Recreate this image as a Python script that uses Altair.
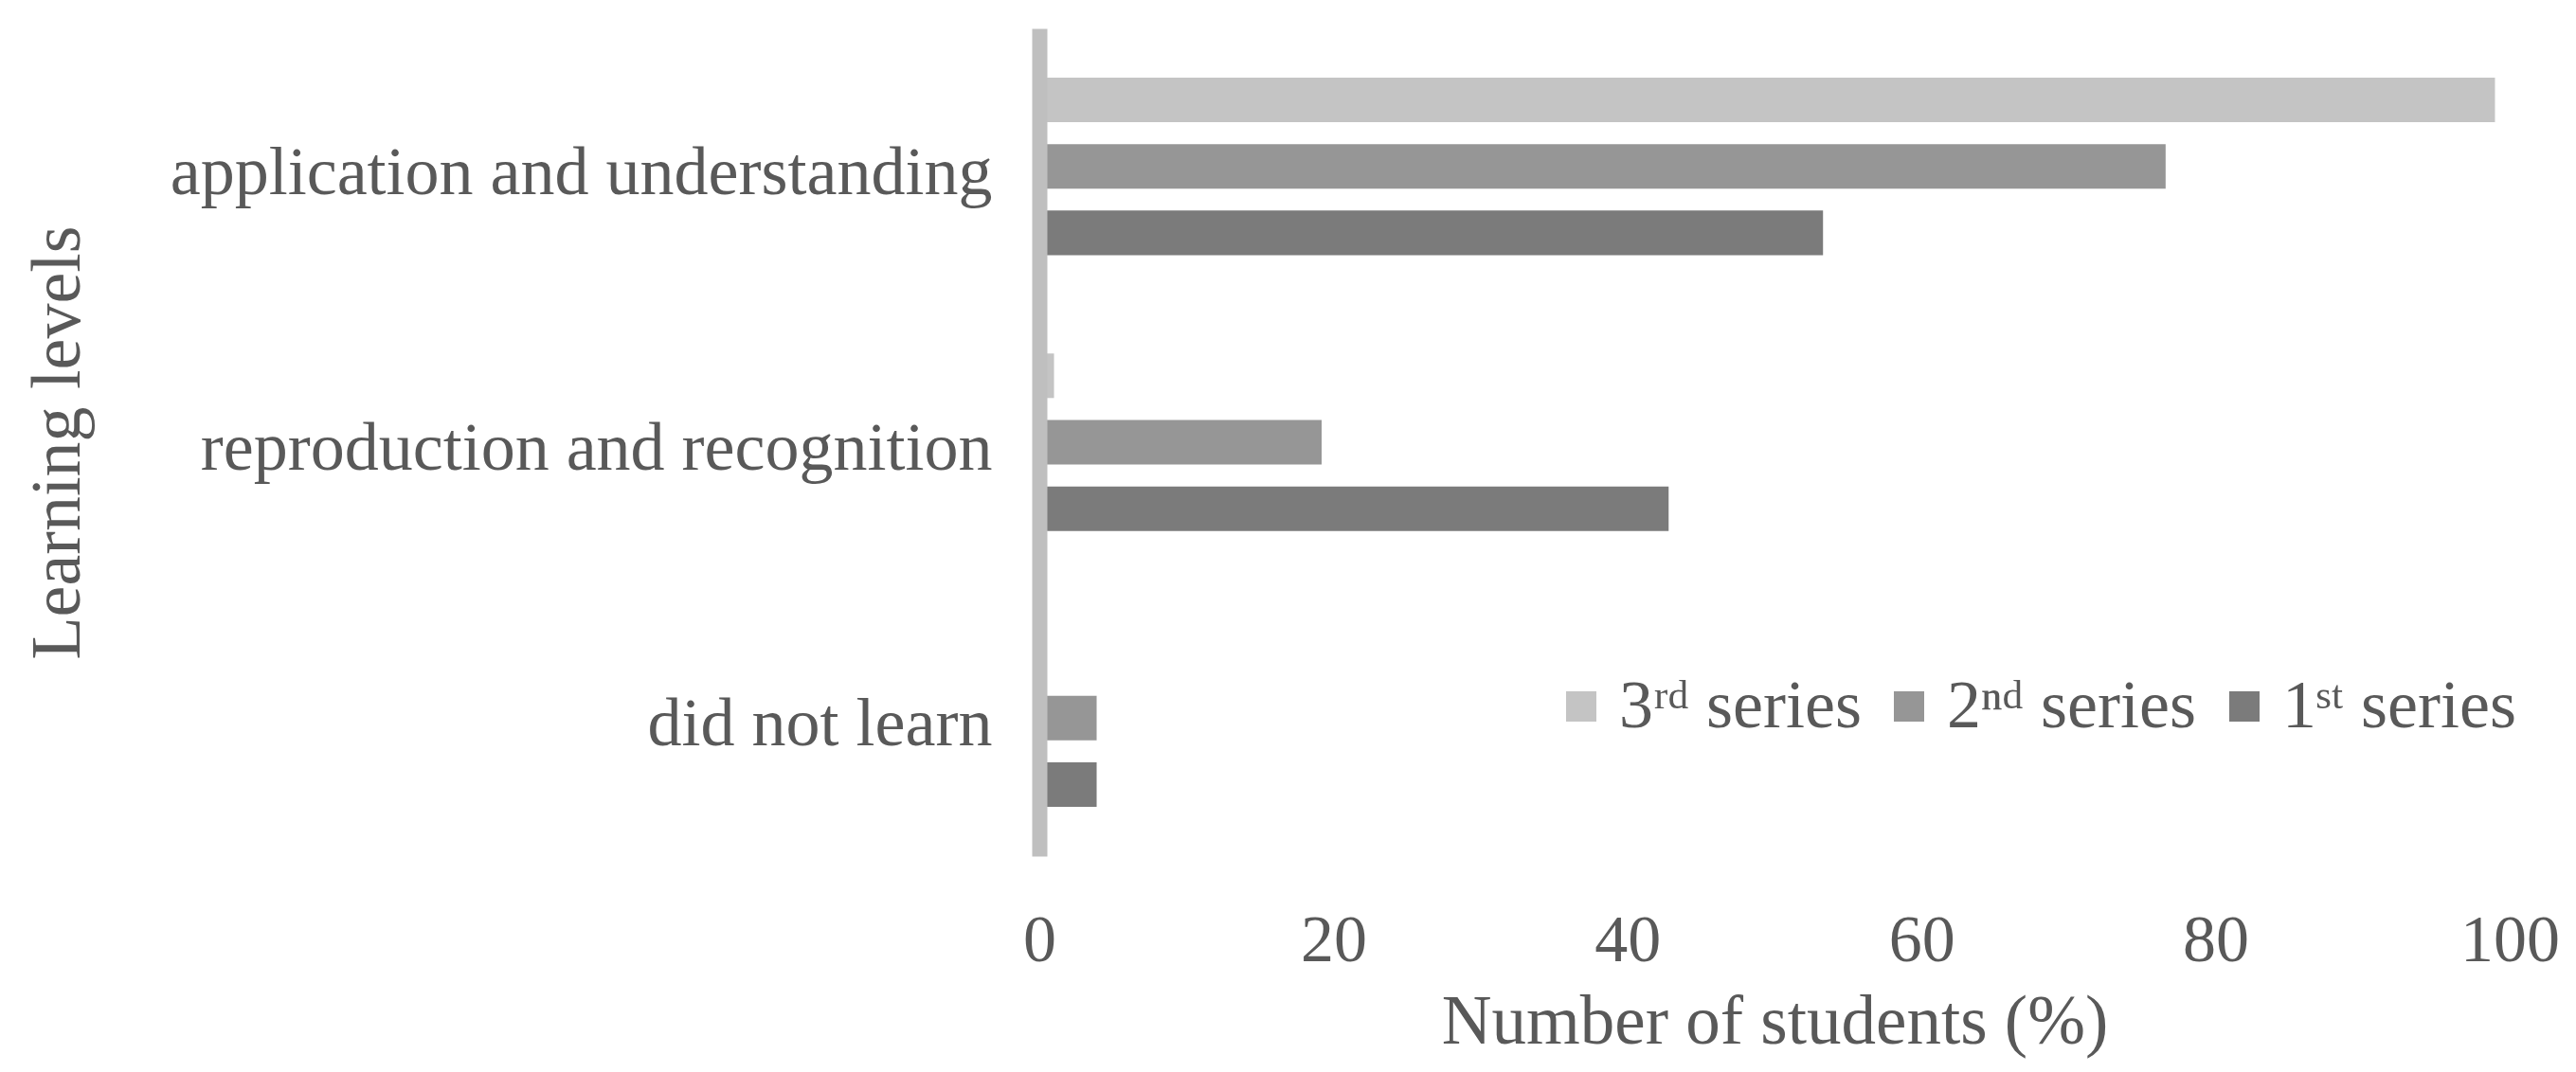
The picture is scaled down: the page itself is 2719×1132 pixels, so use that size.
import altair as alt
import pandas as pd

levels = ["application and understanding", "reproduction and recognition", "did not learn"]
series = ["3ʳᵈ series", "2ⁿᵈ series", "1ˢᵗ series"]
values_3rd = [99, 1, 0]
values_2nd = [76.6, 19.2, 3.9]
values_1st = [53.3, 42.8, 3.9]
colors = ["#c4c4c4", "#969696", "#7b7b7b"]

rows = []
for s, vals in zip(series, [values_3rd, values_2nd, values_1st]):
    for lv, v in zip(levels, vals):
        rows.append({"level": lv, "series": s, "value": v})
df = pd.DataFrame(rows)

FONT = "Liberation Serif"
TXT = "#595959"

chart = alt.Chart(df).mark_bar().encode(
    y=alt.Y("level:N", sort=levels,
            scale=alt.Scale(paddingInner=0, paddingOuter=0),
            axis=alt.Axis(title="Learning levels", ticks=False, labelPadding=50,
                          labelFontSize=72, labelColor=TXT, labelFont=FONT,
                          labelLimit=2000, labelOffset=7, zindex=1,
                          domainColor="#bfbfbf", domainWidth=16,
                          titleFont=FONT, titleFontSize=74, titleColor=TXT,
                          titleFontWeight="normal", titleBaseline="middle",
                          titleX=-1036)),
    yOffset=alt.YOffset("series:N", sort=series,
                        scale=alt.Scale(paddingInner=0.33, paddingOuter=0.74)),
    x=alt.X("value:Q", scale=alt.Scale(domain=[0, 100], nice=False),
            axis=alt.Axis(title="Number of students (%)", values=[0, 20, 40, 60, 80, 100],
                          grid=False, domain=False, ticks=False, labelFlush=False,
                          labelFontSize=70, labelColor=TXT, labelFont=FONT,
                          labelBaseline="middle", labelPadding=89,
                          titleFont=FONT, titleFontSize=73, titleColor=TXT,
                          titleFontWeight="normal", titleBaseline="middle",
                          titleY=175)),
    color=alt.Color("series:N", sort=series,
                    scale=alt.Scale(domain=series, range=colors),
                    legend=alt.Legend(title=None, orient="none", direction="horizontal",
                                      legendX=536, legendY=680, symbolType="square",
                                      symbolSize=1024, symbolStrokeWidth=0,
                                      labelFont=FONT, labelFontSize=72, labelColor=TXT,
                                      labelOffset=4, columnPadding=14, padding=0,
                                      labelLimit=1000)),
).properties(
    width=1552, height=874,
    autosize=alt.AutoSizeParams(type="none"),
    padding={"left": 1089, "top": 22, "right": 60, "bottom": 220},
).configure(font=FONT).configure_view(stroke=None)

chart.save("out.html", embed_options={"renderer": "svg", "actions": False})
